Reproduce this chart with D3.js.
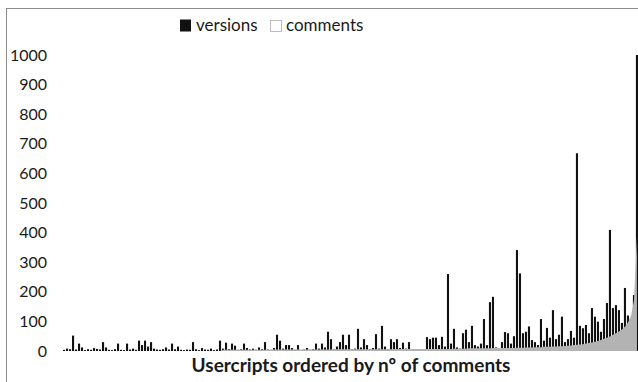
<!DOCTYPE html>
<html>
<head>
<meta charset="utf-8">
<script src="https://cdn.jsdelivr.net/npm/d3@7"></script>
<style>
  body { margin: 0; background: #fff; }
  svg { display: block; font-family: Lato, "Open Sans", sans-serif; }
</style>
</head>
<body>
<svg id="chart" width="638" height="382"></svg>
<script>
// versions per usercript (black columns)
const versions = [
  4, 8, 6, 52, 5, 25, 12, 3, 6, 4, 10, 7, 5, 30, 12, 4, 3, 6, 25, 4,
  3, 25, 5, 8, 4, 35, 20, 35, 15, 30, 8, 5, 4, 6, 12, 5, 25, 6, 15, 4,
  3, 5, 4, 30, 6, 3, 10, 5, 4, 8, 3, 5, 35, 8, 28, 6, 25, 18, 4, 6,
  25, 10, 5, 8, 4, 12, 6, 30, 5, 4, 10, 55, 35, 8, 20, 20, 10, 4, 20, 3,
  5, 10, 4, 6, 25, 8, 25, 12, 65, 40, 6, 15, 30, 55, 20, 55, 5, 8, 75, 12,
  40, 20, 6, 10, 57, 8, 85, 15, 6, 40, 30, 40, 10, 28, 8, 30, 4, 3, 2, 3,
  6, 47, 40, 45, 45, 20, 48, 15, 260, 25, 75, 12, 8, 60, 72, 30, 85, 20, 15, 25,
  108, 20, 165, 183, 12, 10, 30, 64, 60, 25, 50, 341, 262, 60, 65, 83, 37, 30, 20, 108,
  35, 78, 45, 138, 40, 55, 116, 30, 40, 68, 45, 668, 85, 77, 88, 60, 145, 116, 99, 65,
  108, 162, 409, 145, 155, 138, 95, 213, 120, 110, 189, 1000
];

// comments per usercript (grey area, ascending)
const comments = [
  0, 0, 0, 0, 0, 0, 0, 0, 0, 0, 0, 0, 0, 0, 0, 0, 0, 0, 0, 0,
  0, 0, 0, 0, 0, 0, 0, 0, 0, 0, 0, 0, 0, 0, 0, 0, 0, 0, 0, 0,
  0, 0, 0, 0, 0, 0, 0, 0, 0, 0, 0, 0, 0, 4, 4, 4, 4, 4, 4, 4,
  4, 4, 4, 4, 4, 4, 4, 4, 4, 4, 5, 5, 5, 5, 5, 5, 5, 5, 5, 5,
  5, 5, 5, 5, 5, 5, 5, 5, 5, 5, 6, 6, 6, 6, 6, 6, 6, 6, 6, 6,
  6, 6, 6, 6, 6, 6, 6, 6, 6, 6, 7, 7, 7, 7, 7, 7, 7, 7, 7, 7,
  7, 7, 7, 7, 7, 7, 7, 7, 7, 7, 8, 8, 8, 8, 8, 9, 9, 9, 9, 9,
  9, 9, 9, 10, 10, 10, 10, 10, 10, 10, 10, 11, 11, 11, 12, 12, 12, 13, 13, 13,
  14, 14, 14, 15, 15, 16, 16, 17, 18, 19, 20, 21, 22, 23, 25, 27, 29, 31, 34, 37,
  41, 45, 49, 55, 60, 66, 73, 82, 96, 118, 170, 385
];

const yTicks = [0, 100, 200, 300, 400, 500, 600, 700, 800, 900, 1000];
const legendLabels = ["versions", "comments"];
const xTitle = "Usercripts ordered by nº of comments";

const svg = d3.select("#chart");

// outer frame
svg.append("rect")
    .attr("x", 6.5).attr("y", 8.5)
    .attr("width", 700).attr("height", 400)
    .attr("fill", "none")
    .attr("stroke", "#8c8c8c");

const idx = d3.range(versions.length);

const x = d3.scaleBand()
    .domain(idx)
    .range([63, 638])
    .paddingInner(0.3);

const y = d3.scaleLinear()
    .domain([0, 1000])
    .range([351, 55]);

// y tick labels only, no axis line
const yAxis = svg.append("g")
    .attr("transform", "translate(47,0)")
    .call(d3.axisLeft(y).tickValues(yTicks).tickFormat(d3.format("d")).tickSize(0).tickPadding(0));
yAxis.select(".domain").remove();
yAxis.selectAll("text")
    .style("font-family", "Lato, 'Open Sans', sans-serif")
    .style("font-size", "16px")
    .attr("fill", "#1a1a1a");

const plot = svg.append("g");

plot.append("clipPath").attr("id", "clip")
    .append("rect").attr("x", 60).attr("y", 50).attr("width", 580).attr("height", 302);

// versions columns
plot.append("g").attr("clip-path", "url(#clip)")
    .selectAll("rect")
    .data(idx)
    .enter()
    .append("rect")
    .attr("x", i => x(i))
    .attr("width", x.bandwidth())
    .attr("y", i => y(Math.min(versions[i], 1000)))
    .attr("height", i => y(0) - y(Math.min(versions[i], 1000)))
    .attr("fill", "#111");

// comments area drawn over the columns
const area = d3.area()
    .x(i => x(i) + x.bandwidth() / 2)
    .y0(y(0))
    .y1(i => y(comments[i]));

plot.append("path")
    .datum(idx)
    .attr("d", area)
    .attr("fill", "#b3b3b3");

// legend
const legend = svg.append("g");
legend.append("rect")
    .attr("x", 180).attr("y", 19.5).attr("width", 11).attr("height", 12)
    .attr("fill", "#111");
legend.append("text")
    .attr("x", 196).attr("y", 31)
    .style("font-size", "17px")
    .attr("fill", "#1a1a1a")
    .text(legendLabels[0]);
legend.append("rect")
    .attr("x", 270.5).attr("y", 20.5).attr("width", 11).attr("height", 11)
    .attr("fill", "#fff").attr("stroke", "#bdbdbd");
legend.append("text")
    .attr("x", 286).attr("y", 31)
    .style("font-size", "17px")
    .attr("fill", "#1a1a1a")
    .text(legendLabels[1]);

// x axis title
svg.append("text")
    .attr("x", 351).attr("y", 372)
    .attr("text-anchor", "middle")
    .style("font-size", "19px")
    .style("font-weight", "bold")
    .attr("fill", "#1a1a1a")
    .text(xTitle);
</script>
</body>
</html>
